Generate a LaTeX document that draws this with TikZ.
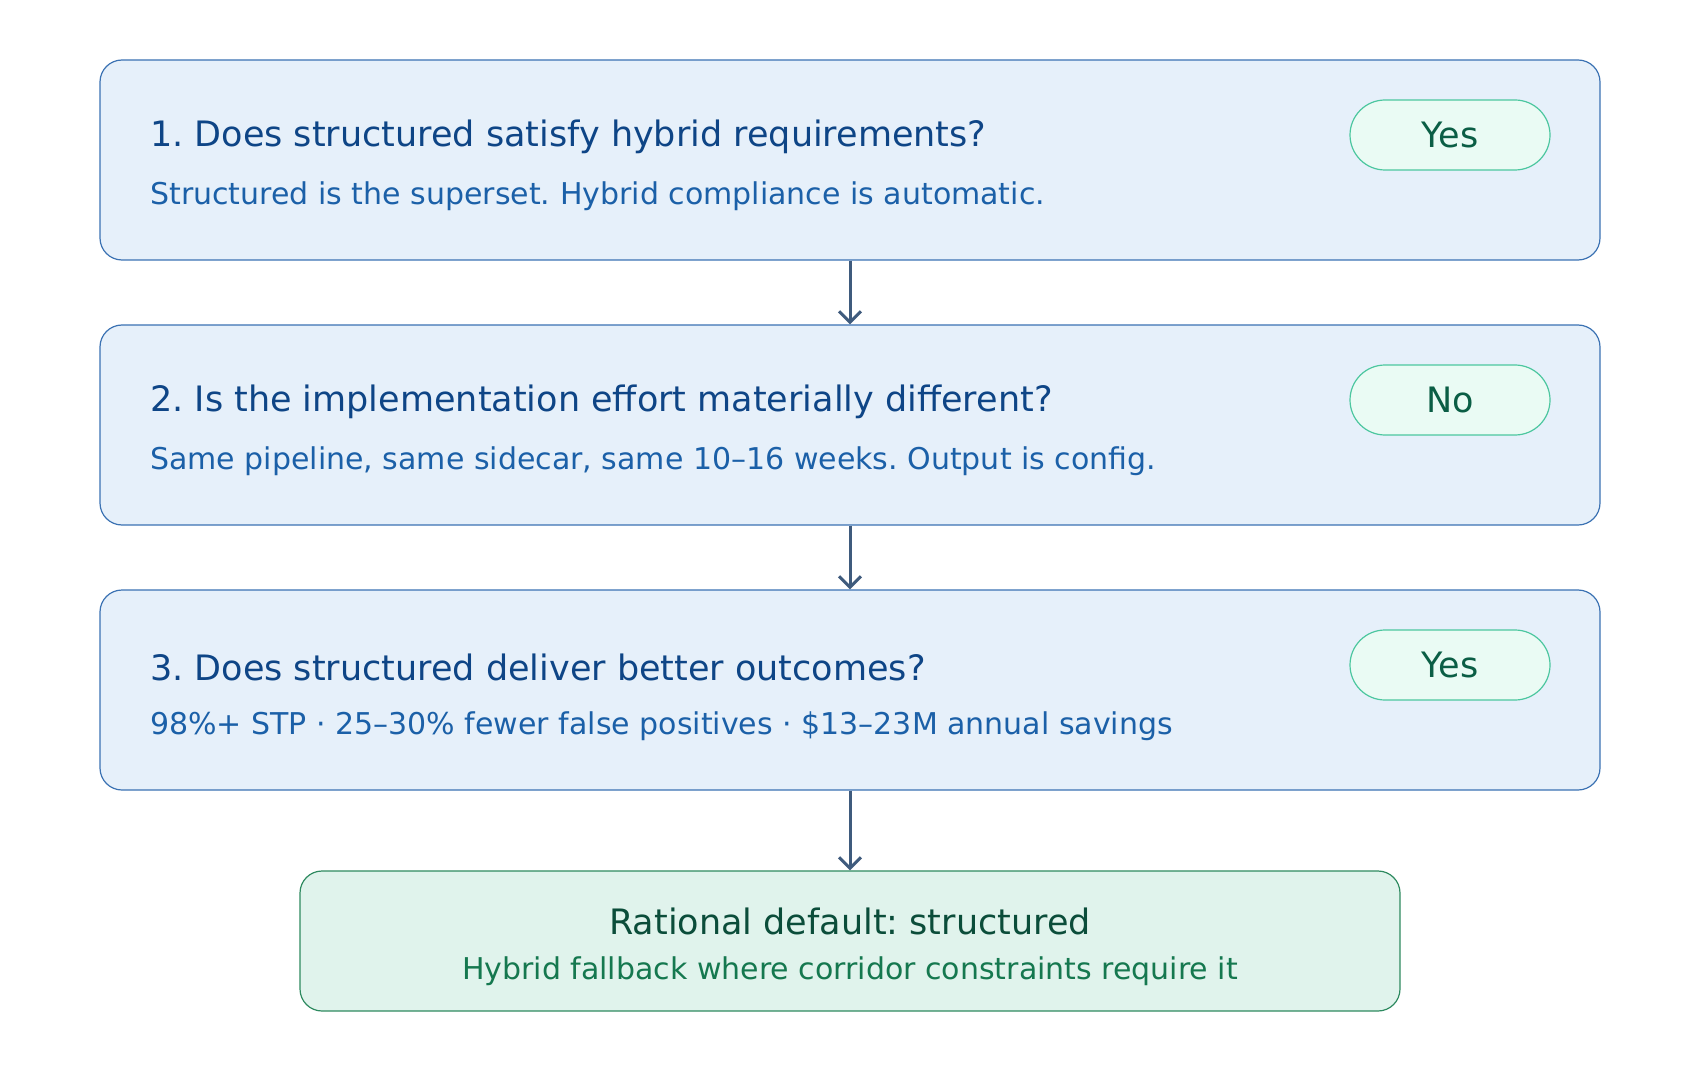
\documentclass[tikz,border=0pt]{standalone}
\usepackage{fontspec}
\setmainfont{DejaVu Sans}
\usetikzlibrary{arrows.meta}
\frenchspacing
\definecolor{qfill}{HTML}{E6F0FA}
\definecolor{qline}{HTML}{3B72B3}
\definecolor{qtitle}{HTML}{0E4586}
\definecolor{qsub}{HTML}{1B60A8}
\definecolor{pfill}{HTML}{EAFBF4}
\definecolor{pline}{HTML}{4CC79F}
\definecolor{ptext}{HTML}{0B5E45}
\definecolor{ffill}{HTML}{E0F3EC}
\definecolor{fline}{HTML}{2E8A60}
\definecolor{ftitle}{HTML}{0B4D3A}
\definecolor{fsub}{HTML}{15784F}
\definecolor{arr}{HTML}{3F5B7D}
\begin{document}
\begin{tikzpicture}[x=1pt,y=-1pt,
 qbox/.style={draw=qline,fill=qfill,line width=1.2pt,rounded corners=22pt,minimum width=1500pt,minimum height=200pt,inner sep=0pt},
 fbox/.style={draw=fline,fill=ffill,line width=1.2pt,rounded corners=22pt,minimum width=1100pt,minimum height=140pt,inner sep=0pt},
 pill/.style={draw=pline,fill=pfill,line width=1.2pt,rounded corners=35pt,minimum width=200pt,minimum height=70pt,text=ptext,font=\fontsize{35}{40}\selectfont},
 ttl/.style={anchor=west,text=qtitle,font=\fontsize{35}{40}\selectfont,inner sep=0pt},
 sub/.style={anchor=west,text=qsub,font=\fontsize{30}{36}\selectfont,inner sep=0pt},
 con/.style={draw=arr,line width=3pt,-{Straight Barb[length=11pt,width=22pt,line width=3pt]}}]
\useasboundingbox (0,0) rectangle (1700,1075);
\node[qbox] (b1) at (850,160) {};
\node[qbox] (b2) at (850,425) {};
\node[qbox] (b3) at (850,690) {};
\node[fbox] (f) at (850,941) {};
\node[pill] (p1) at (1450,135) {Yes};
\node[pill] (p2) at (1450,400) {No};
\node[pill] (p3) at (1450,665) {Yes};
\node[ttl] (t1) at (150,137) {1. Does structured satisfy hybrid requirements?};
\node[sub] (s1) at (150,196) {Structured is the superset. Hybrid compliance is automatic.};
\node[ttl] (t2) at (150,402) {2. Is the implementation effort materially different?};
\node[sub] (s2) at (150,461) {Same pipeline, same sidecar, same 10–16 weeks. Output is config.};
\node[ttl] (t3) at (150,667) {3. Does structured deliver better outcomes?};
\node[sub] (s3) at (150,726) {98\%+ STP · 25–30\% fewer false positives · \$13–23M annual savings};
\node[text=ftitle,font=\fontsize{35}{40}\selectfont,inner sep=0pt] (ft) at (850,921) {Rational default: structured};
\node[text=fsub,font=\fontsize{30}{36}\selectfont,inner sep=0pt] (fs) at (850,971) {Hybrid fallback where corridor constraints require it};
\draw[con] (b1.south) -- (b2.north);
\draw[con] (b2.south) -- (b3.north);
\draw[con] (b3.south) -- (f.north);
\end{tikzpicture}
\end{document}
